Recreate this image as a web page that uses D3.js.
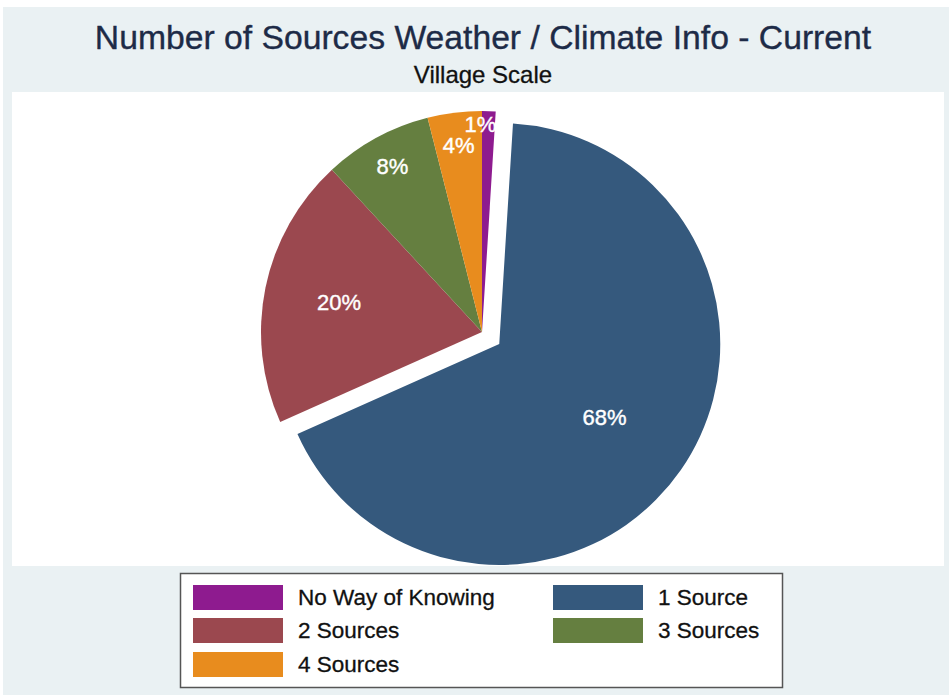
<!DOCTYPE html>
<html>
<head>
<meta charset="utf-8">
<script src="https://cdn.jsdelivr.net/npm/d3@7/dist/d3.min.js"></script>
<style>
  html, body { margin: 0; padding: 0; background: #ffffff; }
  svg { display: block; font-family: "Liberation Sans", Arial, Helvetica, sans-serif; }
</style>
</head>
<body>
<svg id="chart" width="952" height="698"></svg>
<script>
// Survey shares (percent) by number of weather/climate information sources
const categories = ["No Way of Knowing", "1 Source", "2 Sources", "3 Sources", "4 Sources"];
const shares = [1, 68, 20, 8, 4];
const sliceColors = ["#8e1b8f", "#35597d", "#9b484f", "#657f40", "#e88c1e"];
const explodedCategory = "1 Source";
const titleText = "Number of Sources Weather / Climate Info - Current";
const subtitleText = "Village Scale";

const W = 952, H = 698;
const svg = d3.select("#chart");

// graph region and plot region backgrounds
svg.append("rect").attr("x", 3).attr("y", 7).attr("width", W - 6).attr("height", H - 10)
  .attr("fill", "#eaf1f3");
svg.append("rect").attr("x", 12).attr("y", 92).attr("width", 932).attr("height", 474)
  .attr("fill", "#ffffff");

// titles
svg.append("text").attr("x", 483).attr("y", 49).attr("text-anchor", "middle")
  .attr("font-size", 33.7).attr("fill", "#1d2b47")
  .attr("stroke", "#1d2b47").attr("stroke-width", 0.35).text(titleText);
svg.append("text").attr("x", 483).attr("y", 83).attr("text-anchor", "middle")
  .attr("font-size", 24).attr("fill", "#111111")
  .attr("stroke", "#111111").attr("stroke-width", 0.3).text(subtitleText);

// pie
const cx = 482, cy = 332, R = 221, explodeDist = 21;
const data = categories.map((c, i) => ({ category: c, value: shares[i], color: sliceColors[i] }));
const pie = d3.pie().value(d => d.value).sort(null).startAngle(0).endAngle(2 * Math.PI);
const arcs = pie(data);
const arc = d3.arc().innerRadius(0).outerRadius(R);

// label distance from the slice vertex, as a fraction of the radius
const labelRadius = [0.94, 0.58, 0.66, 0.85, 0.85];

const g = svg.append("g").attr("transform", `translate(${cx},${cy})`);

function offsetOf(a) {
  if (a.data.category !== explodedCategory) return [0, 0];
  const mid = (a.startAngle + a.endAngle) / 2;
  return [Math.sin(mid) * explodeDist, -Math.cos(mid) * explodeDist];
}

g.selectAll("path.slice").data(arcs).join("path")
  .attr("class", "slice")
  .attr("d", arc)
  .attr("fill", d => d.data.color)
  .attr("transform", d => { const o = offsetOf(d); return `translate(${o[0]},${o[1]})`; });

g.selectAll("text.plabel").data(arcs).join("text")
  .attr("class", "plabel")
  .attr("text-anchor", "middle")
  .attr("dominant-baseline", "central")
  .attr("font-size", 22)
  .attr("fill", "#ffffff")
  .attr("stroke", "#ffffff").attr("stroke-width", 0.4)
  .attr("x", (d, i) => {
    const mid = (d.startAngle + d.endAngle) / 2;
    const x = offsetOf(d)[0] + Math.sin(mid) * R * labelRadius[i];
    return i === 0 ? x - 8 : x;
  })
  .attr("y", (d, i) => {
    const mid = (d.startAngle + d.endAngle) / 2;
    return offsetOf(d)[1] - Math.cos(mid) * R * labelRadius[i];
  })
  .text(d => d3.format(".0f")(d.data.value) + "%");

// legend
const legend = svg.append("g");
legend.append("rect").attr("x", 180.5).attr("y", 573.5).attr("width", 602).attr("height", 114)
  .attr("fill", "#ffffff").attr("stroke", "#555555").attr("stroke-width", 1.5);

const colX = [193, 553];
const rowY = [585, 618, 652];
data.forEach((d, i) => {
  const col = i % 2, row = Math.floor(i / 2);
  legend.append("rect").attr("x", colX[col]).attr("y", rowY[row]).attr("width", 90).attr("height", 25)
    .attr("fill", d.color);
  legend.append("text").attr("x", colX[col] + 105).attr("y", rowY[row] + 20)
    .attr("font-size", 22.5).attr("fill", "#111111")
    .attr("stroke", "#111111").attr("stroke-width", 0.3).text(d.category);
});
</script>
</body>
</html>
